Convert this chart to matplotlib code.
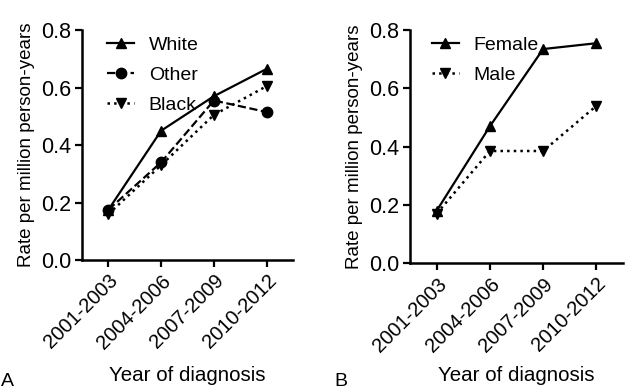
import matplotlib.pyplot as plt

# data
periods = ["2001-2003", "2004-2006", "2007-2009", "2010-2012"]
white = [0.175, 0.45, 0.57, 0.665]
other = [0.175, 0.34, 0.555, 0.515]
black = [0.16, 0.33, 0.505, 0.605]
female = [0.18, 0.47, 0.735, 0.755]
male = [0.17, 0.385, 0.385, 0.54]

plt.rcParams['font.family'] = ['Liberation Sans', 'DejaVu Sans']

fig = plt.figure(figsize=(6.28, 3.91), dpi=100)
ax1 = fig.add_axes([0.1306, 0.335, 0.336, 0.588])
ax2 = fig.add_axes([0.653, 0.327, 0.339, 0.596])

x = range(len(periods))

ax1.plot(x, white, '-', marker='^', color='black', lw=1.6, ms=7.5, label='White')
ax1.plot(x, other, '--', marker='o', color='black', lw=1.6, ms=7.5, label='Other')
ax1.plot(x, black, ':', marker='v', color='black', lw=1.8, ms=7.5, label='Black')

ax2.plot(x, female, '-', marker='^', color='black', lw=1.6, ms=7.5, label='Female')
ax2.plot(x, male, ':', marker='v', color='black', lw=1.8, ms=7.5, label='Male')

legend_x = {ax1: 0.035, ax2: 0.02}
xlabel_y = {ax1: -0.46, ax2: -0.44}
for ax in (ax1, ax2):
    ax.set_xlim(-0.5, 3.5)
    ax.set_ylim(0, 0.8)
    ax.set_yticks([0.0, 0.2, 0.4, 0.6, 0.8])
    ax.set_yticklabels(['0.0', '0.2', '0.4', '0.6', '0.8'], fontsize=15.5)
    ax.set_xticks(list(x))
    ax.set_xticklabels(periods, rotation=45, ha='right', rotation_mode='anchor', fontsize=14.5)
    ax.spines['top'].set_visible(False)
    ax.spines['right'].set_visible(False)
    ax.spines['left'].set_linewidth(1.8)
    ax.spines['bottom'].set_linewidth(1.8)
    ax.tick_params(direction='out', length=5, width=1.6, pad=3)
    ax.set_ylabel('Rate per million person-years', fontsize=13.5)
    ax.set_xlabel('Year of diagnosis', fontsize=14.8)
    ax.xaxis.set_label_coords(0.5, xlabel_y[ax])
    ax.legend(loc='upper left', frameon=False, fontsize=14, handlelength=1.4,
              bbox_to_anchor=(legend_x[ax], 1.05), labelspacing=0.65, handletextpad=0.75)

fig.text(0.002, 0.003, 'A', fontsize=14, va='bottom')
fig.text(0.532, 0.003, 'B', fontsize=14, va='bottom')

fig.savefig('out.png', dpi=100)
